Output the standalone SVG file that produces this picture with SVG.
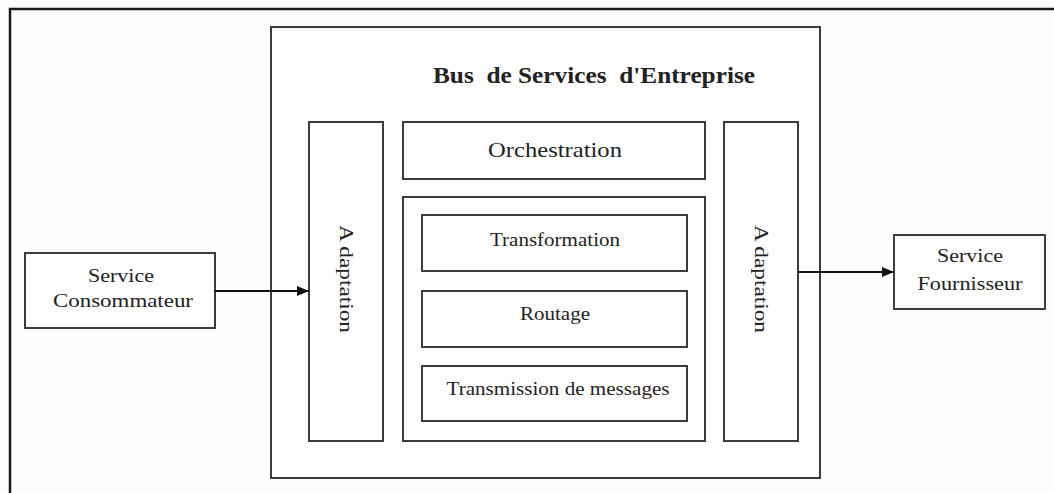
<svg xmlns="http://www.w3.org/2000/svg" width="1054" height="493" viewBox="0 0 1054 493">
  <style>
    .box { fill: #ffffff; stroke: #3c3c3c; stroke-width: 2; }
    .lbl { font-family: "Liberation Serif", "Times New Roman", serif; fill: #222222; text-anchor: middle; }
    .title { font-size: 23px; font-weight: bold; white-space: pre; }
    .big { font-size: 21px; }
    .mid { font-size: 19px; }
    .link { stroke: #111111; stroke-width: 2; fill: none; }
  </style>
  <defs>
    <marker id="arrow" viewBox="0 0 12 10" refX="12" refY="5" markerWidth="12" markerHeight="10" markerUnits="userSpaceOnUse" orient="auto">
      <path d="M0,0 L12,5 L0,10 Z" fill="#111111"/>
    </marker>
  </defs>

  <rect width="1054" height="493" fill="#fefefe"/>

  <!-- page frame (top and left edges) -->
  <path d="M10,493 L10,9 L1054,9" fill="none" stroke="#1a1a1a" stroke-width="2.5"/>

  <!-- enterprise service bus container -->
  <g id="esb">
    <rect class="box" x="271" y="27" width="549" height="451"/>
    <text class="lbl title" x="594" y="83" textLength="322" lengthAdjust="spacingAndGlyphs" xml:space="preserve">Bus  de Services  d'Entreprise</text>
  </g>

  <g id="adaptation-in">
    <rect class="box" x="309" y="122" width="74" height="319"/>
    <text class="lbl mid" transform="translate(340,279) rotate(90)" textLength="108" lengthAdjust="spacingAndGlyphs">A daptation</text>
  </g>

  <g id="orchestration">
    <rect class="box" x="403" y="122" width="302" height="57"/>
    <text class="lbl big" x="555" y="157" textLength="134" lengthAdjust="spacingAndGlyphs">Orchestration</text>
  </g>

  <g id="core">
    <rect class="box" x="403" y="197" width="302" height="244"/>
  </g>

  <g id="transformation">
    <rect class="box" x="422" y="215" width="265" height="56"/>
    <text class="lbl mid" x="555" y="246" textLength="130" lengthAdjust="spacingAndGlyphs">Transformation</text>
  </g>

  <g id="routage">
    <rect class="box" x="422" y="291" width="265" height="56"/>
    <text class="lbl mid" x="555" y="320" textLength="70" lengthAdjust="spacingAndGlyphs">Routage</text>
  </g>

  <g id="transmission">
    <rect class="box" x="422" y="366" width="265" height="55"/>
    <text class="lbl mid" x="558" y="395" textLength="223" lengthAdjust="spacingAndGlyphs">Transmission de messages</text>
  </g>

  <g id="adaptation-out">
    <rect class="box" x="724" y="122" width="74" height="319"/>
    <text class="lbl mid" transform="translate(755,279) rotate(90)" textLength="108" lengthAdjust="spacingAndGlyphs">A daptation</text>
  </g>

  <g id="consommateur">
    <rect class="box" x="25" y="253" width="190" height="75"/>
    <text class="lbl mid" x="121" y="282" textLength="66" lengthAdjust="spacingAndGlyphs">Service</text>
    <text class="lbl mid" x="123" y="307" textLength="140" lengthAdjust="spacingAndGlyphs">Consommateur</text>
  </g>

  <g id="fournisseur">
    <rect class="box" x="894" y="235" width="151" height="74"/>
    <text class="lbl mid" x="970" y="262" textLength="66" lengthAdjust="spacingAndGlyphs">Service</text>
    <text class="lbl mid" x="970" y="290" textLength="105" lengthAdjust="spacingAndGlyphs">Fournisseur</text>
  </g>

  <g id="connectors">
    <line class="link" x1="215" y1="291" x2="309" y2="291" marker-end="url(#arrow)"/>
    <line class="link" x1="798" y1="272" x2="894" y2="272" marker-end="url(#arrow)"/>
  </g>
</svg>
